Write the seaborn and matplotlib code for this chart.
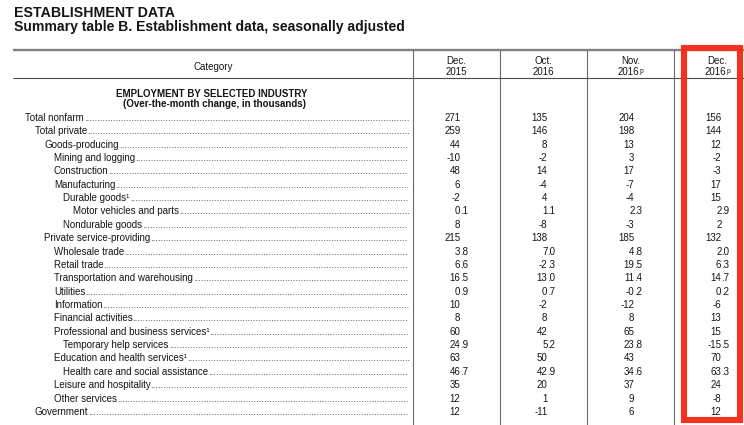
import matplotlib
matplotlib.use("Agg")
import numpy as np
import pandas as pd
import seaborn as sns
import matplotlib.pyplot as plt
from matplotlib.colors import ListedColormap
from matplotlib.patches import Rectangle
import matplotlib.transforms as mtransforms

# ---------------- data ----------------
categories = [
    "Total nonfarm", "Total private", "Goods-producing", "Mining and logging",
    "Construction", "Manufacturing", "Durable goods", "Motor vehicles and parts",
    "Nondurable goods", "Private service-providing", "Wholesale trade",
    "Retail trade", "Transportation and warehousing", "Utilities", "Information",
    "Financial activities", "Professional and business services",
    "Temporary help services", "Education and health services",
    "Health care and social assistance", "Leisure and hospitality",
    "Other services", "Government",
]
levels = [0, 1, 2, 3, 3, 3, 4, 5, 4, 2, 3, 3, 3, 3, 3, 3, 3, 4, 3, 4, 3, 3, 1]
footnoted = ["Durable goods", "Professional and business services",
             "Education and health services"]
decimals = [0, 0, 0, 0, 0, 0, 0, 1, 0, 0, 1, 1, 1, 1, 0, 0, 0, 1, 0, 1, 0, 0, 0]

dec_2015 = [271, 259, 44, -10, 48, 6, -2, 0.1, 8, 215, 3.8, 6.6, 16.5, 0.9,
            10, 8, 60, 24.9, 63, 46.7, 35, 12, 12]
oct_2016 = [135, 146, 8, -2, 14, -4, 4, 1.1, -8, 138, 7.0, -2.3, 13.0, 0.7,
            -2, 8, 42, 5.2, 50, 42.9, 20, 1, -11]
nov_2016 = [204, 198, 13, 3, 17, -7, -4, 2.3, -3, 185, 4.8, 19.5, 11.4, -0.2,
            -12, 8, 65, 23.8, 43, 34.6, 37, 9, 6]
dec_2016 = [156, 144, 12, -2, -3, 17, 15, 2.9, 2, 132, 2.0, 6.3, 14.7, 0.2,
            -6, 13, 15, -15.5, 70, 63.3, 24, -8, 12]

col_months = ["Dec.", "Oct.", "Nov.", "Dec."]
col_years = ["2015", "2016", "2016", "2016"]
col_prelim = [False, False, True, True]

title1 = "ESTABLISHMENT DATA"
title2 = "Summary table B. Establishment data, seasonally adjusted"
section1 = "EMPLOYMENT BY SELECTED INDUSTRY"
section2 = "(Over-the-month change, in thousands)"

df = pd.DataFrame({"Dec. 2015": dec_2015, "Oct. 2016": oct_2016,
                   "Nov. 2016": nov_2016, "Dec. 2016": dec_2016},
                  index=categories)

# ---------------- style ----------------
sns.set_theme(style="white")
plt.rcParams["font.family"] = ["Liberation Sans", "DejaVu Sans"]
TXT = "#151515"

W, H = 744, 425
fig = plt.figure(figsize=(W / 100, H / 100), dpi=100)
fig.patch.set_facecolor("white")

# overlay axes in pixel coordinates
ax = fig.add_axes([0, 0, 1, 1])
ax.set_xlim(0, W)
ax.set_ylim(H, 0)
ax.axis("off")
ax.set_zorder(2)

# numeric table body drawn as a seaborn heatmap (white cells)
row_top, row_h = 110.8, 13.36
col_left, col_w = 413, 87
n_rows, n_cols = df.shape
hm = fig.add_axes([col_left / W, 1 - (row_top + n_rows * row_h) / H,
                   n_cols * col_w / W, n_rows * row_h / H])
hm.set_zorder(1)
sns.heatmap(df, ax=hm, cmap=ListedColormap(["white"]), cbar=False,
            xticklabels=False, yticklabels=False, linewidths=0)
hm.set_axis_off()

# transforms
lab_tr = mtransforms.blended_transform_factory(ax.transData, hm.transData)
col_tr = mtransforms.blended_transform_factory(hm.transData, ax.transData)

# ---------------- titles ----------------
ax.text(14, 17, title1, fontsize=10.2, fontweight="bold", color=TXT,
        va="baseline", ha="left")
ax.text(14, 31, title2, fontsize=10.1, fontweight="bold", color=TXT,
        va="baseline", ha="left")

# ---------------- rules ----------------
ax.plot([13, W], [50, 50], color="#808080", lw=1.7, solid_capstyle="butt")
ax.plot([13, W], [78, 78], color="#4a4a4a", lw=0.8, solid_capstyle="butt")
for j in range(n_cols):
    ax.plot([j, j], [50, H], color="#6a6a6a", lw=0.8, transform=col_tr)

# ---------------- header ----------------
ax.text(213, 70, "Category", fontsize=7, color=TXT, ha="center", va="baseline")
for j in range(n_cols):
    ax.text(j + 0.5, 64, col_months[j], fontsize=7, color=TXT, ha="center",
            va="baseline", transform=col_tr)
    shift = -2.0 / col_w if col_prelim[j] else 0.0
    yt = ax.text(j + 0.5 + shift, 74.5, col_years[j], fontsize=7, color=TXT,
                 ha="center", va="baseline", transform=col_tr)
    if col_prelim[j]:
        ax.annotate("p", xy=(1, 1), xycoords=yt, xytext=(0.2, -0.8),
                    textcoords="offset points", fontsize=4.8, color=TXT,
                    ha="left", va="top")

ax.text(212, 97.3, section1, fontsize=7, fontweight="bold", color=TXT,
        ha="center", va="baseline")
ax.text(214.5, 107, section2, fontsize=7, fontweight="bold", color=TXT,
        ha="center", va="baseline")

# ---------------- row labels with dot leaders ----------------
fig.canvas.draw()
renderer = fig.canvas.get_renderer()
probe = ax.text(0, 0, "." * 100, fontsize=7)
dot_w = probe.get_window_extent(renderer).width / 100.0
probe.remove()
leader_end = 410.0  # in pixels (x data == pixel)

base_off = 0.5 + 3.5 / row_h
for i, (name, lvl) in enumerate(zip(categories, levels)):
    label = name + ("\u00b9" if name in footnoted else "")
    t = ax.text(25 + lvl * 9.6, i + base_off, label, fontsize=7,
                color=TXT, ha="left", va="baseline", transform=lab_tr)
    x1 = t.get_window_extent(renderer).x1
    n = int((leader_end - x1) // dot_w)
    if n > 0:
        ax.text(x1, i + base_off, "." * n, fontsize=7, color="#333333",
                ha="left", va="baseline",
                transform=mtransforms.blended_transform_factory(
                    mtransforms.IdentityTransform(), hm.transData))

# ---------------- numbers (decimal aligned) ----------------
int_off = 4.0 / col_w
for j, col in enumerate(df.columns):
    for i, v in enumerate(df[col].values):
        s = f"{v:.{decimals[i]}f}"
        if "." in s:
            ip, fp = s.split(".")
            fp = "." + fp
        else:
            ip, fp = s, ""
        hm.text(j + 0.5 + int_off, i + base_off, ip, fontsize=7, color=TXT,
                ha="right", va="baseline")
        if fp:
            hm.text(j + 0.5 + int_off, i + base_off, fp, fontsize=7, color=TXT,
                    ha="left", va="baseline")

# ---------------- highlight box ----------------
ax.add_patch(Rectangle((684, 48), 56, 372, fill=False, ec="#f5301e",
                       lw=4.4, joinstyle="miter", zorder=5))

fig.savefig("out.png", dpi=100, facecolor="white")
